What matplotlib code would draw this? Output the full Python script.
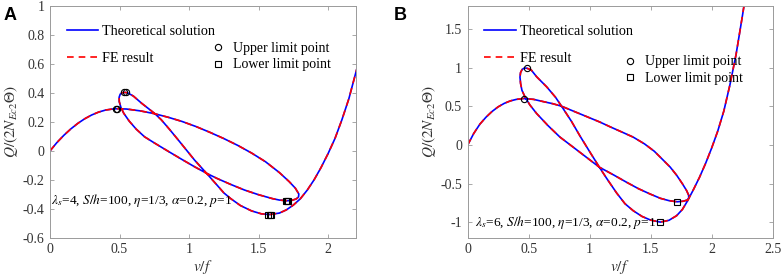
import matplotlib
matplotlib.use("Agg")
import matplotlib.pyplot as plt
from matplotlib.lines import Line2D

plt.rcParams['font.family'] = ['Liberation Serif', 'DejaVu Serif']
plt.rcParams['mathtext.fontset'] = 'stix'

# ---- panel A (lambda_s = 4): equilibrium path ----
a_x = [0, 0.05, 0.1, 0.15, 0.2, 0.25, 0.3, 0.35, 0.4, 0.45, 0.48,
       0.55, 0.65, 0.75, 0.85, 0.95, 1.05, 1.15, 1.25, 1.35, 1.45, 1.55, 1.65,
       1.72, 1.765, 1.79, 1.788, 1.772, 1.74, 1.705,
       1.65, 1.6, 1.5, 1.4, 1.3, 1.2, 1.126, 1.04, 0.95, 0.85, 0.75, 0.68,
       0.62, 0.57, 0.53, 0.51, 0.498, 0.497, 0.505, 0.52, 0.539,
       0.56, 0.6, 0.66, 0.72, 0.754, 0.8, 0.86, 0.92, 0.98, 1.04, 1.126,
       1.2, 1.25, 1.3, 1.37, 1.45, 1.52, 1.58,
       1.65, 1.7, 1.75, 1.8, 1.85, 1.9, 1.95, 2.0, 2.05, 2.1, 2.15, 2.2, 2.23]
a_y = [0, 0.058, 0.108, 0.152, 0.19, 0.222, 0.248, 0.268, 0.282, 0.289, 0.291,
       0.289, 0.276, 0.257, 0.232, 0.203, 0.168, 0.128, 0.085, 0.038, -0.015, -0.075, -0.150,
       -0.212, -0.258, -0.298, -0.318, -0.332, -0.342, -0.345,
       -0.340, -0.330, -0.303, -0.271, -0.232, -0.190, -0.155, -0.110, -0.060, -0.003, 0.055, 0.097,
       0.150, 0.205, 0.260, 0.300, 0.340, 0.370, 0.392, 0.402, 0.404,
       0.400, 0.378, 0.328, 0.283, 0.257, 0.215, 0.148, 0.078, 0.007, -0.064, -0.155,
       -0.235, -0.290, -0.330, -0.378, -0.415, -0.435, -0.440,
       -0.430, -0.408, -0.375, -0.332, -0.272, -0.200, -0.115, -0.020, 0.085, 0.215, 0.360, 0.540, 0.650]
a_up_x = [0.476, 0.484, 0.535, 0.543]
a_up_y = [0.291, 0.291, 0.404, 0.404]
a_lo_x = [1.695, 1.705, 1.715, 1.57, 1.58, 1.59]
a_lo_y = [-0.345, -0.345, -0.345, -0.440, -0.440, -0.440]

# ---- panel B (lambda_s = 6) ----
b_x = [0, 0.05, 0.1, 0.15, 0.2, 0.25, 0.3, 0.35, 0.4, 0.459,
       0.54, 0.62, 0.7, 0.77, 0.9, 1.0, 1.084, 1.17, 1.27, 1.357, 1.45, 1.53, 1.6,
       1.66, 1.713, 1.76, 1.795, 1.812, 1.812, 1.80, 1.77, 1.718,
       1.65, 1.58, 1.494, 1.40, 1.303, 1.2, 1.08, 0.98, 0.88, 0.757, 0.66, 0.566,
       0.51, 0.47, 0.445, 0.434, 0.429, 0.434, 0.447, 0.465, 0.484,
       0.52, 0.566, 0.648, 0.72, 0.77, 0.85, 0.92, 1.0, 1.08, 1.139, 1.221,
       1.29, 1.357, 1.43, 1.5, 1.579,
       1.65, 1.713, 1.76, 1.80, 1.85, 1.9, 1.95, 2.0, 2.05, 2.1, 2.15, 2.2, 2.25, 2.28]
b_y = [0, 0.15, 0.27, 0.36, 0.435, 0.495, 0.54, 0.572, 0.592, 0.603,
       0.592, 0.563, 0.535, 0.503, 0.418, 0.353, 0.298, 0.235, 0.165, 0.103, 0.015, -0.08, -0.19,
       -0.285, -0.39, -0.50, -0.59, -0.65, -0.69, -0.712, -0.727, -0.735,
       -0.72, -0.69, -0.633, -0.565, -0.482, -0.39, -0.287, -0.166, -0.045, 0.103, 0.25, 0.408,
       0.52, 0.624, 0.71, 0.798, 0.88, 0.94, 0.98, 0.998, 0.996,
       0.975, 0.884, 0.754, 0.62, 0.503, 0.31, 0.12, -0.085, -0.287, -0.43, -0.62,
       -0.76, -0.85, -0.925, -0.972, -0.998,
       -0.975, -0.915, -0.835, -0.73, -0.58, -0.42, -0.24, -0.04, 0.18, 0.44, 0.78, 1.17, 1.65, 1.95]
b_up_x = [0.459, 0.484]
b_up_y = [0.603, 0.996]
b_lo_x = [1.716, 1.58]
b_lo_y = [-0.733, -1.0]

a_xticks = [0, 0.5, 1, 1.5, 2]
a_xlabels = ['0', '0.5', '1', '1.5', '2']
a_yticks = [-0.6, -0.4, -0.2, 0, 0.2, 0.4, 0.6, 0.8, 1]
a_ylabels = ['-0.6', '-0.4', '-0.2', '0', '0.2', '0.4', '0.6', '0.8', '1']
b_xticks = [0, 0.5, 1, 1.5, 2, 2.5]
b_xlabels = ['0', '0.5', '1', '1.5', '2', '2.5']
b_yticks = [-1, -0.5, 0, 0.5, 1, 1.5]
b_ylabels = ['-1', '-0.5', '0', '0.5', '1', '1.5']

spine_c = '#9a9a9a'
text_c = '#333333'

fig = plt.figure(figsize=(7.82, 2.78), dpi=100)
ax_a = fig.add_axes([0.064, 0.145, 0.391, 0.833])
ax_b = fig.add_axes([0.598, 0.145, 0.390, 0.833])


def draw(ax, x, y, upx, upy, lox, loy, xlim, ylim, xt, xl, yt, yl, note, note_xy, leg2_anchor):
    ax.plot(x, y, color='#0000ff', lw=1.2, label='Theoretical solution')
    ax.plot(x, y, color='#ff0000', lw=1.2, ls=(0, (4, 3)), label='FE result')
    ax.plot(upx, upy, 'o', ms=4.5, mfc='none', mec='black', mew=0.8)
    ax.plot(lox, loy, 's', ms=4.2, mfc='none', mec='black', mew=0.8)
    ax.set_xlim(xlim)
    ax.set_ylim(ylim)
    ax.set_xticks(xt)
    ax.set_xticklabels(xl)
    ax.set_yticks(yt)
    ax.set_yticklabels(yl)
    ax.tick_params(direction='in', length=3, width=0.6, color=spine_c,
                   labelsize=10, labelcolor=text_c, top=True, right=True, pad=4)
    for s in ax.spines.values():
        s.set_color(spine_c)
        s.set_linewidth(0.7)
    ax.set_xlabel(r'$v/f$', fontsize=11, color=text_c, labelpad=1)
    ax.set_ylabel(r'$Q/(2N_{Ec2}\Theta)$', fontsize=11, color=text_c, labelpad=2)
    ax.text(note_xy[0], note_xy[1], note, fontsize=9.6, color='black', va='center')

    leg1 = ax.legend(loc='upper left', bbox_to_anchor=(0.055, 0.918), frameon=False,
                     fontsize=10.2, handlelength=2.2, handletextpad=0.3,
                     labelspacing=0.95, borderpad=0, borderaxespad=0)
    ax.add_artist(leg1)
    h = [Line2D([], [], ls='none', marker='o', ms=4.5, mfc='none', mec='black', mew=0.8),
         Line2D([], [], ls='none', marker='s', ms=4.2, mfc='none', mec='black', mew=0.8)]
    ax.legend(h, ['Upper limit point', 'Lower limit point'], loc='upper left',
              bbox_to_anchor=leg2_anchor, frameon=False, fontsize=10,
              handlelength=1.0, handletextpad=0.6, labelspacing=0.25,
              borderpad=0, borderaxespad=0)


draw(ax_a, a_x, a_y, a_up_x, a_up_y, a_lo_x, a_lo_y, (0, 2.2), (-0.6, 1),
     a_xticks, a_xlabels, a_yticks, a_ylabels,
     r'$\lambda_s$=4, $S/h$=100, $\eta$=1/3, $\alpha$=0.2, $p$=1', (0.01, -0.34),
     (0.525, 0.845))
draw(ax_b, b_x, b_y, b_up_x, b_up_y, b_lo_x, b_lo_y, (0, 2.5), (-1.2, 1.8),
     b_xticks, b_xlabels, b_yticks, b_ylabels,
     r'$\lambda_s$=6, $S/h$=100, $\eta$=1/3, $\alpha$=0.2, $p$=1', (0.06, -1.0),
     (0.51, 0.787))

fig.text(0.004, 0.975, 'A', fontsize=13, fontweight='bold', family='Liberation Sans', va='top')
fig.text(0.503, 0.975, 'B', fontsize=13, fontweight='bold', family='Liberation Sans', va='top')

fig.savefig('out.png', dpi=100)
